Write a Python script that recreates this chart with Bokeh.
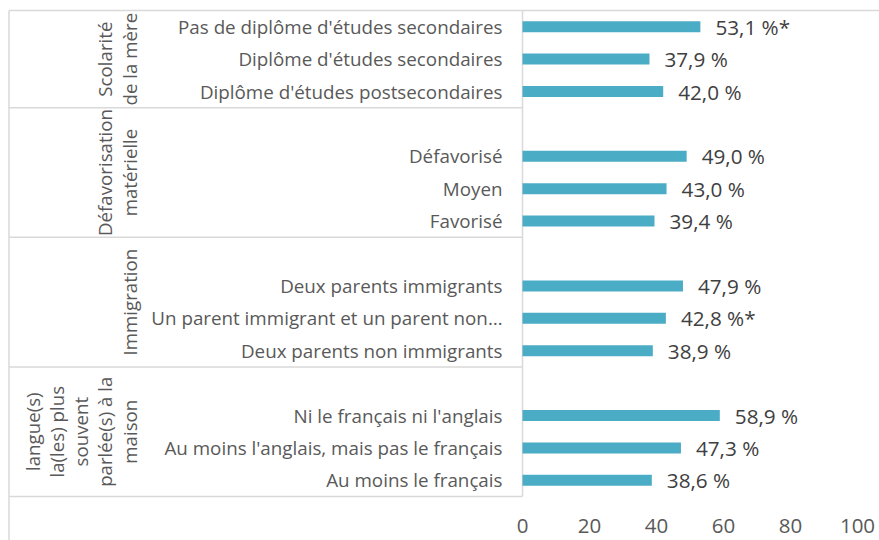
import math
from bokeh.plotting import figure
from bokeh.models import Range1d, ColumnDataSource, FixedTicker
from bokeh.core.properties import value
from bokeh.embed import file_html
from bokeh.resources import INLINE

# ---------------- data ----------------
group_names = [
    "Scolarité\nde la mère",
    "Défavorisation\nmatérielle",
    "Immigration",
    "langue(s)\nla(les) plus\nsouvent\nparlée(s) à la\nmaison",
]
leading_blank = [0, 1, 1, 1]

cat_scolarite = ["Pas de diplôme d'études secondaires",
                 "Diplôme d'études secondaires",
                 "Diplôme d'études postsecondaires"]
val_scolarite = [53.1, 37.9, 42.0]
star_scolarite = [True, False, False]

cat_defavorisation = ["Défavorisé", "Moyen", "Favorisé"]
val_defavorisation = [49.0, 43.0, 39.4]
star_defavorisation = [False, False, False]

cat_immigration = ["Deux parents immigrants",
                   "Un parent immigrant et un parent non…",
                   "Deux parents non immigrants"]
val_immigration = [47.9, 42.8, 38.9]
star_immigration = [False, True, False]

cat_langue = ["Ni le français ni l'anglais",
              "Au moins l'anglais, mais pas le français",
              "Au moins le français"]
val_langue = [58.9, 47.3, 38.6]
star_langue = [False, False, False]

x_ticks = [0, 20, 40, 60, 80, 100]

categories = [cat_scolarite, cat_defavorisation, cat_immigration, cat_langue]
values = [val_scolarite, val_defavorisation, val_immigration, val_langue]
stars = [star_scolarite, star_defavorisation, star_immigration, star_langue]

# ---------------- layout constants ----------------
W, H = 879, 540
PX_PER_UNIT = 3.35      # screen px per value unit
X0_PX = 522             # screen x of value 0
SLOT_PX = 32.4          # screen px per category slot
TOP_PX = 10             # screen y of first slot top
LEFT_PX = 8.5           # screen x of the left border line

BAR_COLOR = "#4BACC6"
LINE_COLOR = "#D9D9D9"
FONT = "Open Sans"

x_start = -X0_PX / PX_PER_UNIT
x_end = (W - X0_PX) / PX_PER_UNIT
y_top = -TOP_PX / SLOT_PX
y_bottom = (H - TOP_PX) / SLOT_PX
x_left = x_start + LEFT_PX / PX_PER_UNIT

# ---------------- build rows ----------------
bar_y, bar_v, bar_lbl, bar_cat = [], [], [], []
grp_y, grp_txt, bounds = [], [], []
k = 0
for gname, blank, cats, vals, sts in zip(group_names, leading_blank, categories, values, stars):
    start = k
    k += blank
    for c, v, s in zip(cats, vals, sts):
        bar_y.append(k + 0.5)
        bar_v.append(v)
        bar_cat.append(c)
        bar_lbl.append(f"{v:.1f}".replace(".", ",") + " %" + ("*" if s else ""))
        k += 1
    bounds.append(k)
    grp_y.append((start + k) / 2)
    grp_txt.append(gname)
n_slots = k

bars = ColumnDataSource(dict(y=bar_y, v=bar_v, lbl=bar_lbl, cat=bar_cat))
grps = ColumnDataSource(dict(y=grp_y, txt=grp_txt))

p = figure(width=W, height=H,
           x_range=Range1d(x_start, x_end),
           y_range=Range1d(y_bottom, y_top),
           output_backend="svg", toolbar_location=None,
           y_axis_location=None, min_border=0,
           outline_line_color=None,
           background_fill_color="white", border_fill_color="white")
p.xgrid.visible = False
p.ygrid.visible = False

# x axis placed inside the frame, under the last category slot
ax = p.xaxis[0]
ax.fixed_location = n_slots
ax.ticker = FixedTicker(ticks=x_ticks)
ax.axis_line_color = None
ax.major_tick_line_color = None
ax.minor_tick_line_color = None
ax.major_label_standoff = 16
ax.major_label_text_font = FONT
ax.major_label_text_font_size = "20.5px"
ax.major_label_text_color = "#595959"

# frame lines
p.segment(x0=[x_left], y0=[0], x1=[x_end], y1=[0], line_color=LINE_COLOR, line_width=1.5)
p.segment(x0=[x_left], y0=[0], x1=[x_left], y1=[y_bottom], line_color=LINE_COLOR, line_width=1.5)
p.segment(x0=[x_left] * len(bounds), y0=bounds, x1=[0] * len(bounds), y1=bounds,
          line_color=LINE_COLOR, line_width=1.5)
p.segment(x0=[0], y0=[0], x1=[0], y1=[n_slots], line_color=LINE_COLOR, line_width=1.5)

# bars
p.hbar(y="y", left=0, right="v", height=0.34, source=bars,
       fill_color=BAR_COLOR, line_color=None)

# value labels
p.text(x="v", y="y", text="lbl", source=bars, x_offset=15,
       text_align="left", text_baseline="middle",
       text_font=value(FONT), text_font_size="20.7px", text_color="#404040")

# category labels
p.text(x=0, y="y", text="cat", source=bars, x_offset=-20,
       text_align="right", text_baseline="middle",
       text_font=value(FONT), text_font_size="18.8px", text_color="#595959")

# group labels (rotated)
p.text(x=0, y="y", text="txt", source=grps, x_offset=-381, angle=math.pi / 2,
       text_align="center", text_baseline="bottom", text_line_height=0.97,
       text_font=value(FONT), text_font_size="18.7px", text_color="#595959")

open("out.html", "w").write(file_html(p, INLINE))
